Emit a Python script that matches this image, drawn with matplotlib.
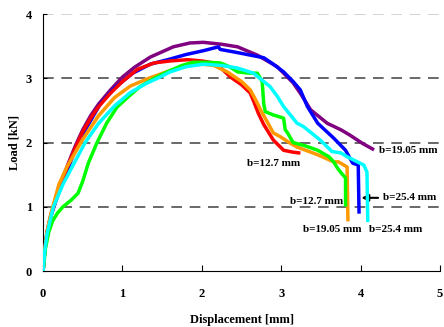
import matplotlib
matplotlib.use("Agg")
import matplotlib.pyplot as plt

plt.rcParams['font.family'] = ['Liberation Serif', 'DejaVu Serif']
plt.rcParams['font.weight'] = 'bold'

# load-displacement curves
purple_x = [0, 0.02, 0.05, 0.1, 0.15, 0.22, 0.3, 0.4, 0.5, 0.6, 0.7, 0.85, 1.0, 1.15, 1.35, 1.64, 1.85, 2.02, 2.25, 2.45, 2.7, 2.95, 3.15, 3.25, 3.37, 3.48, 3.58, 3.75, 3.86, 4.02, 4.15]
purple_y = [0, 0.3, 0.6, 0.88, 1.08, 1.35, 1.62, 1.93, 2.2, 2.42, 2.6, 2.82, 3.02, 3.17, 3.33, 3.49, 3.55, 3.56, 3.53, 3.49, 3.36, 3.18, 2.93, 2.75, 2.51, 2.4, 2.3, 2.2, 2.12, 1.99, 1.9]

red_x = [0, 0.02, 0.05, 0.1, 0.15, 0.22, 0.3, 0.4, 0.5, 0.6, 0.7, 0.85, 1.0, 1.1, 1.19, 1.4, 1.6, 1.82, 2.0, 2.15, 2.25, 2.36, 2.5, 2.61, 2.66, 2.71, 2.78, 2.82, 2.9, 3.03, 3.15, 3.22]
red_y = [0, 0.3, 0.6, 0.87, 1.07, 1.33, 1.6, 1.9, 2.17, 2.38, 2.56, 2.77, 2.95, 3.05, 3.14, 3.24, 3.27, 3.29, 3.27, 3.24, 3.15, 3.02, 2.9, 2.77, 2.62, 2.46, 2.28, 2.2, 2.04, 1.88, 1.85, 1.84]

blue_x = [0, 0.02, 0.05, 0.1, 0.15, 0.22, 0.3, 0.44, 0.57, 0.72, 0.9, 1.13, 1.35, 1.6, 1.8, 2.02, 2.21, 2.23, 2.45, 2.78, 2.9, 3.03, 3.15, 3.24, 3.33, 3.46, 3.66, 3.81, 3.9, 3.97, 3.98]
blue_y = [0, 0.3, 0.6, 0.86, 1.05, 1.3, 1.55, 2.0, 2.28, 2.6, 2.85, 3.08, 3.22, 3.3, 3.37, 3.43, 3.49, 3.45, 3.4, 3.32, 3.22, 3.1, 2.95, 2.82, 2.56, 2.3, 2.07, 1.88, 1.68, 1.65, 0.92]

orange_x = [0, 0.02, 0.05, 0.1, 0.2, 0.3, 0.5, 0.7, 0.9, 1.1, 1.33, 1.6, 1.85, 2.0, 2.15, 2.32, 2.5, 2.61, 2.68, 2.74, 2.82, 2.9, 2.99, 3.1, 3.2, 3.46, 3.66, 3.72, 3.83, 3.84]
orange_y = [0, 0.32, 0.62, 0.9, 1.35, 1.62, 2.05, 2.42, 2.7, 2.88, 3.0, 3.12, 3.2, 3.22, 3.2, 3.1, 2.95, 2.82, 2.66, 2.51, 2.33, 2.15, 2.09, 2.0, 1.93, 1.81, 1.7, 1.7, 1.62, 0.8]

green_x = [0, 0.03, 0.07, 0.12, 0.18, 0.25, 0.35, 0.44, 0.5, 0.57, 0.68, 0.8, 0.93, 1.08, 1.22, 1.4, 1.56, 1.75, 1.89, 2.05, 2.23, 2.35, 2.45, 2.6, 2.7, 2.76, 2.78, 2.8, 2.9, 3.03, 3.05, 3.08, 3.15, 3.3, 3.46, 3.6, 3.66, 3.71, 3.76, 3.81, 3.81]
green_y = [0, 0.35, 0.6, 0.78, 0.9, 1.0, 1.1, 1.21, 1.4, 1.68, 2.0, 2.3, 2.55, 2.72, 2.87, 3.0, 3.1, 3.2, 3.25, 3.25, 3.24, 3.18, 3.1, 3.08, 3.08, 2.95, 2.6, 2.48, 2.43, 2.38, 2.2, 2.15, 2.0, 1.95, 1.88, 1.78, 1.7, 1.6, 1.52, 1.45, 1.03]

cyan_x = [0, 0.02, 0.05, 0.13, 0.25, 0.4, 0.53, 0.7, 0.9, 1.1, 1.3, 1.44, 1.6, 1.8, 2.02, 2.25, 2.45, 2.65, 2.86, 2.95, 3.03, 3.2, 3.28, 3.49, 3.64, 3.75, 3.83, 4.04, 4.08, 4.09]
cyan_y = [0, 0.3, 0.58, 1.0, 1.35, 1.7, 2.0, 2.3, 2.57, 2.78, 2.92, 3.0, 3.1, 3.18, 3.22, 3.2, 3.16, 3.08, 2.87, 2.72, 2.56, 2.3, 2.25, 2.04, 1.86, 1.84, 1.78, 1.65, 1.54, 0.79]

fig = plt.figure(figsize=(4.44, 3.27), dpi=100)
ax = fig.add_axes([0.097, 0.171, 0.894, 0.786])

for yv, col in [(1, '#404040'), (2, '#404040'), (3, '#404040'), (4, '#c8c8c8')]:
    ax.axhline(yv, color=col, lw=1.1, dashes=(7, 5), zorder=1)

lw = 2.5
ax.plot(purple_x, purple_y, color='#800080', lw=lw, zorder=2)
ax.plot(blue_x, blue_y, color='#0000ff', lw=lw, zorder=3)
ax.plot(red_x, red_y, color='#ff0000', lw=lw, zorder=3)
ax.plot(orange_x, orange_y, color='#ff9900', lw=lw, zorder=4)
ax.plot(green_x, green_y, color='#00ff00', lw=lw, zorder=4)
ax.plot(cyan_x, cyan_y, color='#00ffff', lw=lw, zorder=5)

tfont = dict(fontsize=8, fontweight='bold', va='center', ha='left')
ax.text(4.23, 1.88, 'b=19.05 mm', **tfont)
ax.text(2.57, 1.68, 'b=12.7 mm', **tfont)
ax.text(3.11, 1.09, 'b=12.7 mm', **tfont)
ax.text(3.27, 0.64, 'b=19.05 mm', **tfont)
ax.text(4.1, 0.64, 'b=25.4 mm', **tfont)
ax.text(4.28, 1.14, 'b=25.4 mm', **tfont)
ax.annotate('', xy=(4.01, 1.14), xytext=(4.22, 1.14),
            arrowprops=dict(arrowstyle='-|>', color='black', lw=1.5,
                            mutation_scale=10, shrinkA=0, shrinkB=0))

ax.set_xlim(0, 5)
ax.set_ylim(0, 4)
ax.set_xticks([0, 1, 2, 3, 4, 5])
ax.set_yticks([0, 1, 2, 3, 4])
ax.tick_params(axis='x', direction='in', length=4, pad=12, labelsize=9)
ax.tick_params(axis='y', direction='in', length=3, pad=8, labelsize=9)
for s in ['top', 'right']:
    ax.spines[s].set_visible(False)
ax.set_xlabel('Displacement [mm]', fontsize=9, fontweight='bold', labelpad=10)
ax.set_ylabel('Load [kN]', fontsize=9, fontweight='bold', labelpad=4)

plt.savefig('out.png', dpi=100)
